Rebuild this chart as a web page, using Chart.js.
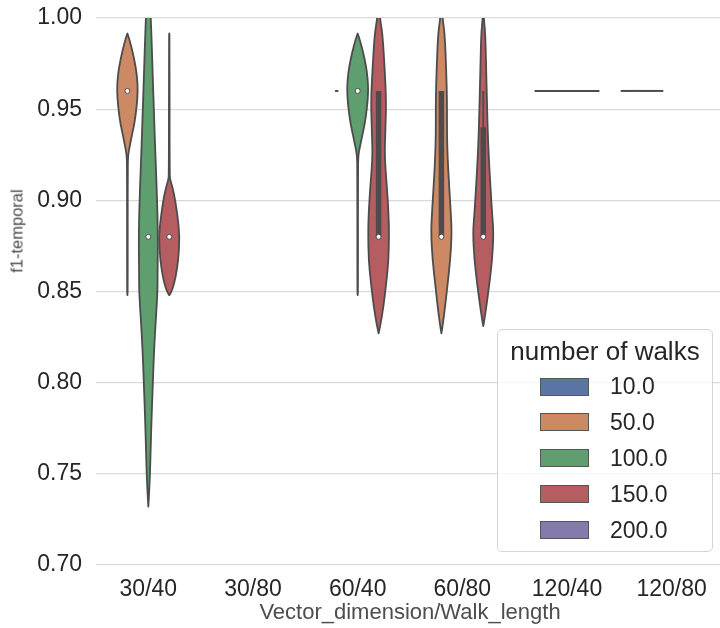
<!DOCTYPE html>
<html>
<head>
<meta charset="utf-8">
<script src="https://cdn.jsdelivr.net/npm/chart.js@4.4.1/dist/chart.umd.min.js"></script>
<style>
  html, body { margin: 0; padding: 0; background: #fff; overflow: hidden; }
  #wrap { position: relative; width: 724px; height: 628px; }
  #ytitle {
    position: absolute; left: 17px; top: 231px; transform: translate(-50%, -50%) rotate(-90deg);
    white-space: nowrap; font-family: "Liberation Sans", Arial, sans-serif; font-size: 16.5px; color: #4a4a4a;
  }
  #legend {
    position: absolute; left: 497px; top: 329px; width: 214px; height: 221px;
    border: 1px solid #d4d4d4; border-radius: 5px; background: rgba(255,255,255,0.8);
    font-family: "Liberation Sans", Arial, sans-serif; color: #262626;
  }
  #legend .title { position: absolute; left: 0; right: 0; top: 5px; line-height: 32px; font-size: 26px; text-align: center; }
  #legend .row { position: absolute; left: 0; height: 36px; display: flex; align-items: center; }
  #legend .patch { margin-left: 42px; width: 47px; height: 16px; border: 1px solid #555; }
  #legend .lbl { margin-left: 21px; font-size: 23px; }
</style>
</head>
<body>
<div id="wrap">
  <canvas id="chart" width="724" height="628" style="width:724px;height:628px"></canvas>
  <div id="ytitle">f1-temporal</div>
  <div id="legend"></div>
</div>
<script>
const categories = ["30/40", "30/80", "60/40", "60/80", "120/40", "120/80"];
const walkCounts = ["10.0", "50.0", "100.0", "150.0", "200.0"];
const walkColors = ["#5875a4", "#cc8963", "#5f9e6e", "#b55d60", "#857aab"];
const edgeGray = "#4c4c4c";

// kde outlines: [f1 value, relative half width]
const kde_30_40_w50 = [[0.9915,0],[0.989,0.15],[0.982,0.48],[0.973,0.8],[0.967,0.93],[0.96,1.0],[0.951,0.88],[0.942,0.67],[0.935,0.4],[0.929,0.2],[0.925,0.07],[0.918,0.03],[0.85,0.03],[0.848,0]];
const kde_30_40_w100 = [[1.03,0],[1.0,0.24],[0.973,0.4],[0.945,0.55],[0.918,0.72],[0.9,0.84],[0.88,0.92],[0.859,0.88],[0.85,0.88],[0.838,0.75],[0.8195,0.56],[0.8,0.43],[0.774,0.27],[0.75,0.16],[0.739,0.07],[0.732,0]];
const kde_30_40_w150 = [[0.9915,0],[0.99,0.03],[0.914,0.03],[0.911,0.1],[0.907,0.32],[0.9,0.57],[0.891,0.8],[0.88,1.0],[0.867,0.86],[0.8575,0.6],[0.852,0.35],[0.849,0.12],[0.848,0]];
const kde_60_40_w100 = [[0.9915,0],[0.989,0.15],[0.982,0.5],[0.973,0.82],[0.967,0.95],[0.96,1.02],[0.951,0.9],[0.942,0.68],[0.935,0.42],[0.929,0.2],[0.925,0.07],[0.918,0.03],[0.85,0.03],[0.848,0]];
const kde_60_40_w150 = [[1.013,0],[1.0,0.12],[0.991,0.38],[0.973,0.57],[0.955,0.73],[0.937,0.64],[0.9235,0.57],[0.907,0.8],[0.893,0.95],[0.882,1.0],[0.867,0.95],[0.8545,0.73],[0.8415,0.46],[0.8325,0.2],[0.827,0]];
const kde_60_80_w50 = [[1.013,0],[1.0,0.1],[0.991,0.32],[0.973,0.45],[0.955,0.54],[0.937,0.53],[0.9235,0.59],[0.907,0.75],[0.893,0.9],[0.882,0.99],[0.867,0.84],[0.8545,0.6],[0.8415,0.35],[0.8325,0.15],[0.827,0]];
const kde_60_80_w150 = [[1.01,0],[1.0,0.05],[0.991,0.2],[0.973,0.27],[0.955,0.35],[0.937,0.43],[0.9235,0.53],[0.907,0.69],[0.893,0.84],[0.882,0.99],[0.867,0.84],[0.8545,0.59],[0.8415,0.29],[0.835,0.12],[0.831,0]];

// box stats: [low whisker, q1, median, q3, high whisker]
const box_30_40_w50 = [0.96, 0.96, 0.96, 0.96, 0.96];
const box_30_40_w100 = [0.88, 0.88, 0.88, 0.88, 0.88];
const box_30_40_w150 = [0.88, 0.88, 0.88, 0.88, 0.88];
const box_60_40_w100 = [0.96, 0.96, 0.96, 0.96, 0.96];
const box_60_40_w150 = [0.88, 0.88, 0.88, 0.96, 0.96];
const box_60_80_w50 = [0.88, 0.88, 0.88, 0.96, 0.96];
const box_60_80_w150 = [0.88, 0.88, 0.88, 0.94, 0.96];

// groups with one distinct value: [category, walks, value, relative half width]
const singleValues = [
  ["60/40", "50.0", 0.96, 0.16],
  ["120/40", "100.0", 0.96, 3.1],
  ["120/80", "10.0", 0.96, 0.87],
  ["120/80", "50.0", 0.96, 1.2]
];

const violins = [
  ["30/40", "50.0", kde_30_40_w50, box_30_40_w50],
  ["30/40", "100.0", kde_30_40_w100, box_30_40_w100],
  ["30/40", "150.0", kde_30_40_w150, box_30_40_w150],
  ["60/40", "100.0", kde_60_40_w100, box_60_40_w100],
  ["60/40", "150.0", kde_60_40_w150, box_60_40_w150],
  ["60/80", "50.0", kde_60_80_w50, box_60_80_w50],
  ["60/80", "150.0", kde_60_80_w150, box_60_80_w150]
];

const FONT = '"Liberation Sans", Arial, sans-serif';

// smooth closed outline through the points (keeps the tips sharp)
function smoothPath(ctx, pts) {
  const n = pts.length;
  const mid = (a, b) => [(a[0] + b[0]) / 2, (a[1] + b[1]) / 2];
  let start = mid(pts[n - 1], pts[0]);
  ctx.moveTo(start[0], start[1]);
  for (let i = 0; i < n; i++) {
    const p = pts[i], m = mid(p, pts[(i + 1) % n]);
    ctx.quadraticCurveTo(p[0], p[1], m[0], m[1]);
  }
  ctx.closePath();
}

const violinPlugin = {
  id: "violins",
  beforeDatasetsDraw(chart) {
    const { ctx, chartArea, scales: { x, y } } = chart;
    const catW = x.getPixelForValue(1) - x.getPixelForValue(0);
    const step = catW * 0.2, dw = catW * 0.1;
    const centerOf = (cat, hue) => x.getPixelForValue(categories.indexOf(cat)) + (walkCounts.indexOf(hue) - 2) * step;

    ctx.save();
    ctx.beginPath();
    ctx.rect(chartArea.left, chartArea.top, chartArea.right - chartArea.left, chartArea.bottom - chartArea.top);
    ctx.clip();
    ctx.lineJoin = "round";

    violins.forEach(([cat, hue, kde, box]) => {
      const cx = centerOf(cat, hue);
      const pts = [];
      kde.forEach(([v, d]) => pts.push([cx - d * dw, y.getPixelForValue(v)]));
      for (let i = kde.length - 1; i >= 0; i--) pts.push([cx + kde[i][1] * dw, y.getPixelForValue(kde[i][0])]);
      ctx.beginPath();
      smoothPath(ctx, pts);
      ctx.fillStyle = walkColors[walkCounts.indexOf(hue)];
      ctx.fill();
      ctx.strokeStyle = edgeGray;
      ctx.lineWidth = 1.8;
      ctx.stroke();

      const [lo, q1, med, q3, hi] = box;
      ctx.lineCap = "butt";
      if (hi > q3 || lo < q1) {
        ctx.lineWidth = 1.8;
        ctx.beginPath();
        ctx.moveTo(cx, y.getPixelForValue(lo));
        ctx.lineTo(cx, y.getPixelForValue(hi));
        ctx.stroke();
      }
      if (q3 > q1) {
        ctx.lineWidth = 5.5;
        ctx.beginPath();
        ctx.moveTo(cx, y.getPixelForValue(q1));
        ctx.lineTo(cx, y.getPixelForValue(q3));
        ctx.stroke();
      }
      ctx.beginPath();
      ctx.arc(cx, y.getPixelForValue(med), 2.5, 0, Math.PI * 2);
      ctx.fillStyle = "#ffffff";
      ctx.fill();
      ctx.lineWidth = 1;
      ctx.stroke();
    });

    singleValues.forEach(([cat, hue, v, d]) => {
      const cx = centerOf(cat, hue);
      const py = y.getPixelForValue(v);
      ctx.strokeStyle = edgeGray;
      ctx.lineWidth = 2;
      ctx.beginPath();
      ctx.moveTo(cx - d * dw, py);
      ctx.lineTo(cx + d * dw, py);
      ctx.stroke();
    });
    ctx.restore();
  }
};

const chart = new Chart(document.getElementById("chart"), {
  type: "bar",
  data: {
    labels: categories,
    datasets: walkCounts.map((w, i) => ({
      label: w,
      data: categories.map(() => null),
      backgroundColor: walkColors[i]
    }))
  },
  options: {
    responsive: false,
    animation: false,
    devicePixelRatio: 1,
    layout: { padding: { top: 18, right: 0, left: 0, bottom: 0 } },
    plugins: { legend: { display: false }, tooltip: { enabled: false } },
    scales: {
      x: {
        grid: { display: false, drawTicks: false },
        border: { display: false },
        ticks: { color: "#262626", font: { size: 23, family: FONT }, padding: 11, maxRotation: 0 },
        title: { display: true, text: "Vector_dimension/Walk_length", color: "#4d4d4d", font: { size: 22, family: FONT }, padding: { top: 0, bottom: 2 } },
        afterFit(scale) { scale.height = 63; scale.paddingLeft = 0; scale.paddingRight = 0; }
      },
      y: {
        min: 0.7,
        max: 1.0,
        grid: { color: "#d9d9d9", lineWidth: 1.3, drawTicks: false },
        border: { display: false },
        ticks: { stepSize: 0.05, color: "#262626", font: { size: 23, family: FONT }, padding: 14, callback: v => v.toFixed(2) },
        afterFit(scale) { scale.width = 96; scale.paddingTop = 0; scale.paddingBottom = 0; }
      }
    }
  },
  plugins: [violinPlugin]
});

// legend box
const legendEl = document.getElementById("legend");
const titleEl = document.createElement("div");
titleEl.className = "title";
titleEl.textContent = "number of walks";
legendEl.appendChild(titleEl);
walkCounts.forEach((w, i) => {
  const row = document.createElement("div");
  row.className = "row";
  row.style.top = (38.5 + i * 35.9) + "px";
  const patch = document.createElement("span");
  patch.className = "patch";
  patch.style.background = walkColors[i];
  const lbl = document.createElement("span");
  lbl.className = "lbl";
  lbl.textContent = w;
  row.appendChild(patch);
  row.appendChild(lbl);
  legendEl.appendChild(row);
});
</script>
</body>
</html>
